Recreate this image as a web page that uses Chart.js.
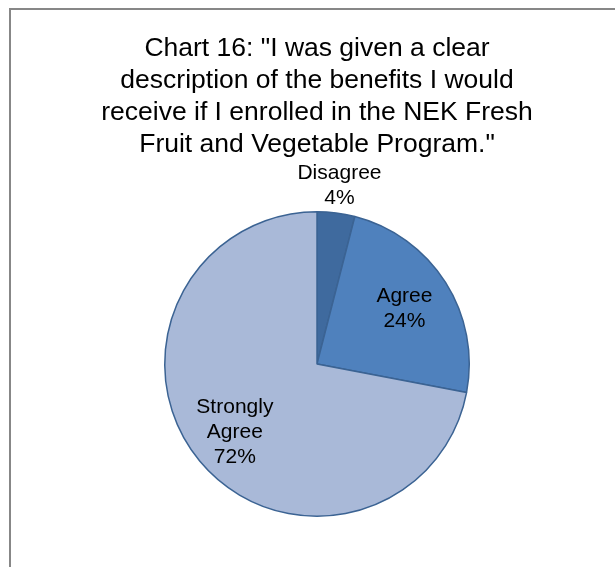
<!DOCTYPE html>
<html>
<head>
<meta charset="utf-8">
<script src="https://cdn.jsdelivr.net/npm/chart.js@4/dist/chart.umd.min.js"></script>
<style>
    html, body { margin: 0; padding: 0; background: #fff; }
    #quadro {
        position: absolute; left: 9px; top: 8px; width: 800px; height: 800px;
        border-left: 2px solid #878787; border-top: 2px solid #878787;
    }
    #area { position: absolute; left: 0; top: 0; width: 615px; height: 567px; }
</style>
</head>
<body>
<div id="quadro"></div>
<div id="area"><canvas id="grafico" width="615" height="567"></canvas></div>
<script>
var titulo = [
    'Chart 16: "I was given a clear',
    'description of the benefits I would',
    'receive if I enrolled in the NEK Fresh',
    'Fruit and Vegetable Program."'
];
var categorias = ['Disagree', 'Agree', 'Strongly Agree'];
var valores = [4, 24, 72];
var cores = ['#3F6A9E', '#4F81BD', '#A9B9D8'];

var fonte = '"Liberation Sans", Arial, sans-serif';

// Rótulos das fatias: nome + percentual, o primeiro fica fora do círculo
var rotulos = {
    id: 'rotulos',
    afterDatasetsDraw: function (chart) {
        var ctx = chart.ctx;
        var arcos = chart.getDatasetMeta(0).data;
        ctx.save();
        ctx.font = '21px ' + fonte;
        ctx.fillStyle = '#000';
        ctx.textAlign = 'center';
        ctx.textBaseline = 'middle';
        arcos.forEach(function (arco, i) {
            var p = arco.getProps(['x', 'y', 'startAngle', 'endAngle', 'outerRadius'], true);
            var meio = (p.startAngle + p.endAngle) / 2;
            var dist = i === 0 ? p.outerRadius + 27 : p.outerRadius * (i === 2 ? 0.7 : 0.68);
            var cx = p.x + Math.cos(meio) * dist;
            var cy = p.y + Math.sin(meio) * dist;
            var linhas = i === 2 ? categorias[i].split(' ') : [categorias[i]];
            linhas.push(valores[i] + '%');
            var alt = 25;
            var y0 = cy - (linhas.length - 1) * alt / 2;
            linhas.forEach(function (t, k) {
                ctx.fillText(t, cx, y0 + k * alt);
            });
        });
        ctx.restore();
    }
};

new Chart(document.getElementById('grafico').getContext('2d'), {
    type: 'pie',
    data: {
        labels: categorias,
        datasets: [{
            data: valores,
            backgroundColor: cores,
            borderColor: '#3B6393',
            borderWidth: 1.5
        }]
    },
    options: {
        responsive: false,
        animation: false,
        layout: { padding: { left: 29, right: 10, top: 0, bottom: 50 } },
        plugins: {
            legend: { display: false },
            tooltip: { enabled: false },
            title: {
                display: true,
                text: titulo,
                color: '#000',
                font: { family: fonte, size: 26.5, weight: 'normal', lineHeight: '32px' },
                padding: { top: 33, bottom: 50 }
            }
        }
    },
    plugins: [rotulos]
});
</script>
</body>
</html>
